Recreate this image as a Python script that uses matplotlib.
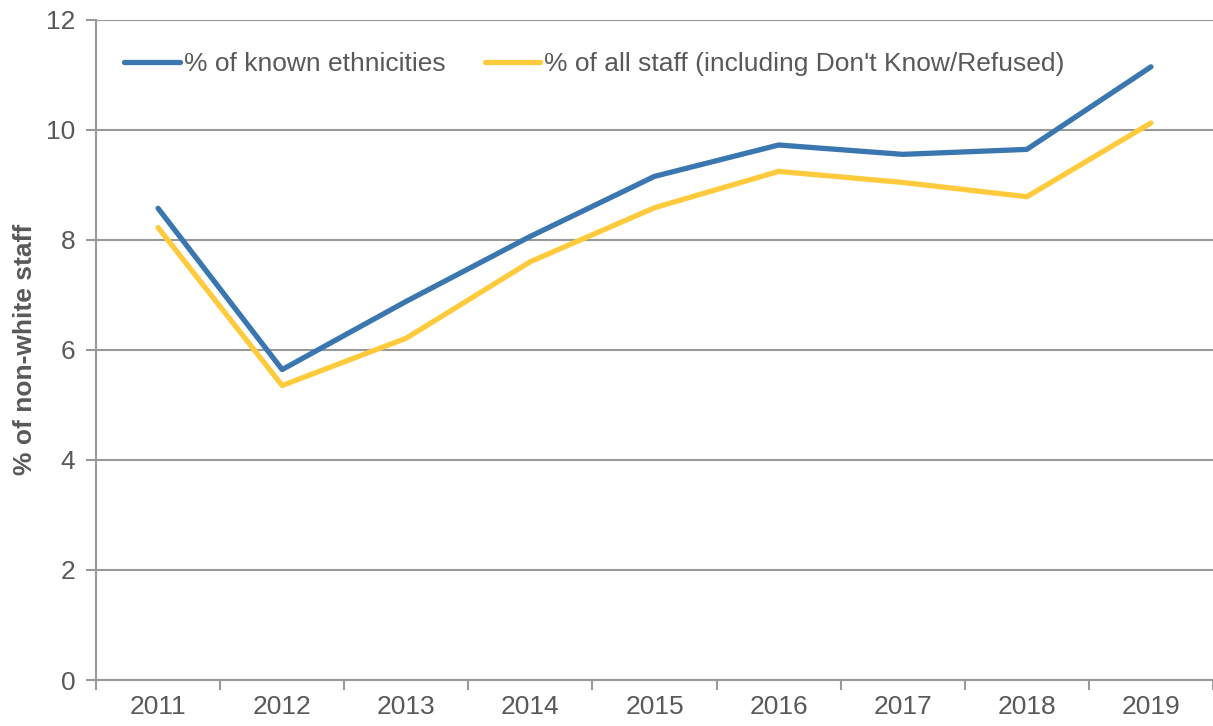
import matplotlib
matplotlib.use("Agg")
import matplotlib.pyplot as plt
import numpy as np

years = ["2011", "2012", "2013", "2014", "2015", "2016", "2017", "2018", "2019"]
known = [8.57, 5.64, 6.88, 8.06, 9.15, 9.72, 9.55, 9.64, 11.14]
all_staff = [8.22, 5.35, 6.21, 7.60, 8.58, 9.24, 9.04, 8.78, 10.12]
labels = ["% of known ethnicities", "% of all staff (including Don't Know/Refused)"]
yticks = [0, 2, 4, 6, 8, 10, 12]

plt.rcParams['font.family'] = ['Liberation Sans', 'DejaVu Sans']
txt = '#595959'
grid = '#999999'

fig = plt.figure(figsize=(12.13, 7.26), dpi=100)
ax = fig.add_axes([96/1213, 1-680/726, 1-96/1213, (680-19.5)/726])

x = np.arange(len(years))
ax.plot(x, known, color='#3A76AF', lw=3.8, solid_capstyle='round', label=labels[0])
ax.plot(x, all_staff, color='#FFCB3D', lw=3.8, solid_capstyle='round', label=labels[1])

ax.set_xlim(-0.5, len(years) - 0.5)
ax.set_ylim(0, 12)
ax.set_yticks(yticks)
ax.set_yticklabels([str(v) for v in yticks])
ax.set_xticks(x)
ax.set_xticklabels(years)
ax.set_xticks(np.arange(-0.5, len(years), 1.0), minor=True)
ax.tick_params(axis='x', which='major', length=0, pad=11, labelsize=19, labelcolor=txt)
ax.tick_params(axis='x', which='minor', length=7, width=1.5, color=grid, direction='out')
ax.tick_params(axis='y', length=7, width=1.5, color=grid, pad=8, labelsize=19, labelcolor=txt)

ax.yaxis.grid(True, color=grid, lw=1.5)
ax.set_axisbelow(True)
for s in ['top', 'right']:
    ax.spines[s].set_visible(False)
for s in ['left', 'bottom']:
    ax.spines[s].set_color(grid)
    ax.spines[s].set_linewidth(1.5)

ax.set_ylabel('% of non-white staff', fontsize=19, fontweight='bold', color=txt, labelpad=6)

leg = ax.legend(loc='upper left', bbox_to_anchor=(0.004, 0.986), ncol=2, frameon=False,
                fontsize=19, handlelength=2.1, handletextpad=0.15, columnspacing=1.5,
                labelcolor=txt)

fig.savefig('out.png', dpi=100)
